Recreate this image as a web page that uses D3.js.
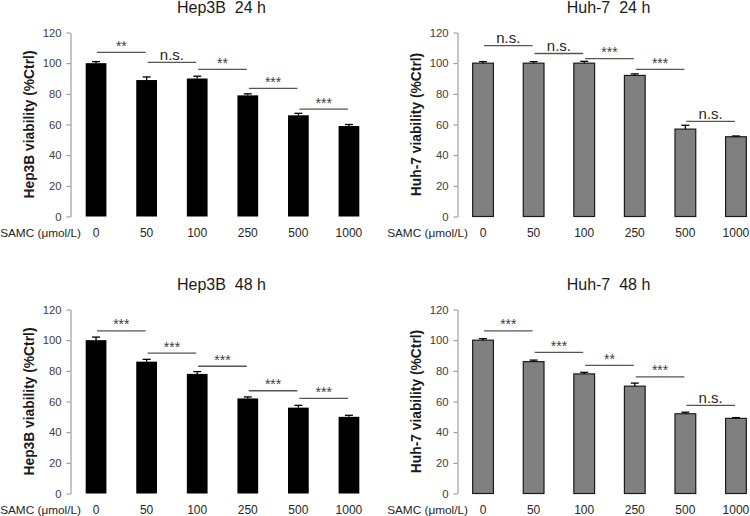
<!DOCTYPE html>
<html>
<head>
<meta charset="utf-8">
<script src="https://cdn.jsdelivr.net/npm/d3@7"></script>
<style>
  html, body { margin: 0; padding: 0; background: #fff; }
  svg { display: block; font-family: Arial, "Liberation Sans", sans-serif; }
</style>
</head>
<body>
<svg id="chart" width="750" height="516"></svg>
<script>
// ---------------- DATA ----------------
const categories = ["0", "50", "100", "250", "500", "1000"];
const yTicks = [0, 20, 40, 60, 80, 100, 120];
const xAxisTitle = "SAMC (\u03bcmol/L)";

const titles = ["Hep3B  24 h", "Huh-7  24 h", "Hep3B  48 h", "Huh-7  48 h"];
const yTitles = ["Hep3B viability (%Ctrl)", "Huh-7 viability (%Ctrl)", "Hep3B viability (%Ctrl)", "Huh-7 viability (%Ctrl)"];

const hep3b24 = [100, 89, 90, 79, 66, 59];
const hep3b24Err = [1, 2, 1.5, 1, 1.3, 1];
const huh724 = [100, 100, 100, 92, 57, 52];
const huh724Err = [1, 1, 1.2, 1, 2.5, 0.5];
const hep3b48 = [100, 86, 78, 62, 56, 50];
const hep3b48Err = [2, 1.5, 1.5, 1, 1.5, 1];
const huh748 = [100, 86, 78, 70, 52, 49];
const huh748Err = [1, 1, 1, 2, 1, 0.5];

// significance between consecutive concentrations: label and bracket height (data units)
const sig1 = ["**", "n.s.", "**", "***", "***"];
const sig1Y = [107, 100.5, 96, 83.5, 70];
const sig2 = ["n.s.", "n.s.", "***", "***", "n.s."];
const sig2Y = [111.5, 106.3, 103, 96, 62];
const sig3 = ["***", "***", "***", "***", "***"];
const sig3Y = [106, 91.5, 83, 67, 62];
const sig4 = ["***", "***", "**", "***", "n.s."];
const sig4Y = [106, 92, 83.5, 76, 57.5];

// ---------------- LAYOUT ----------------
const panels = [
  { values: hep3b24, err: hep3b24Err, sig: sig1, sigY: sig1Y, title: titles[0], yTitle: yTitles[0], ax: 70.5, y0: 216.5, yTop: 32.5, titleY: 13, fill: "#000000", stroke: "none" },
  { values: huh724, err: huh724Err, sig: sig2, sigY: sig2Y, title: titles[1], yTitle: yTitles[1], ax: 457.5, y0: 216.5, yTop: 32.5, titleY: 13, fill: "#808080", stroke: "#1a1a1a" },
  { values: hep3b48, err: hep3b48Err, sig: sig3, sigY: sig3Y, title: titles[2], yTitle: yTitles[2], ax: 70.5, y0: 493.5, yTop: 309.5, titleY: 290, fill: "#000000", stroke: "none" },
  { values: huh748, err: huh748Err, sig: sig4, sigY: sig4Y, title: titles[3], yTitle: yTitles[3], ax: 457.5, y0: 493.5, yTop: 309.5, titleY: 290, fill: "#808080", stroke: "#1a1a1a" }
];

const svg = d3.select("#chart");

panels.forEach(p => {
  const g = svg.append("g");
  const x = d3.scaleBand().domain(categories).range([p.ax, p.ax + 304]).paddingInner(0.59).paddingOuter(0.3);
  const cx = d => x(d) + x.bandwidth() / 2;
  const y = d3.scaleLinear().domain([0, 120]).range([p.y0, p.yTop]);

  // y axis
  const yAxis = d3.axisLeft(y).tickValues(yTicks).tickSize(4).tickPadding(5).tickSizeOuter(0);
  const ag = g.append("g").attr("transform", `translate(${p.ax},0)`).call(yAxis);
  ag.select(".domain").attr("stroke", "#8c8c8c").attr("stroke-width", 1);
  ag.selectAll(".tick line").attr("stroke", "#8c8c8c");
  ag.selectAll(".tick text").attr("fill", "#404040").style("font-size", "11.3px").style("font-family", "Arial, 'Liberation Sans', sans-serif");

  // x labels
  g.selectAll("text.xl").data(categories).enter().append("text")
    .attr("x", d => cx(d)).attr("y", p.y0 + 20)
    .attr("text-anchor", "middle").attr("fill", "#262626")
    .style("font-size", "12px").text(d => d);
  g.append("text").attr("x", p.ax + 10.5).attr("y", p.y0 + 20)
    .attr("text-anchor", "end").attr("fill", "#262626")
    .style("font-size", "11.8px").text(xAxisTitle);

  // bars
  g.selectAll("rect.bar").data(p.values).enter().append("rect")
    .attr("x", (d, i) => x(categories[i]))
    .attr("y", d => y(d))
    .attr("width", x.bandwidth())
    .attr("height", d => y(0) - y(d))
    .attr("fill", p.fill)
    .attr("stroke", p.stroke).attr("stroke-width", 1.2);

  // error bars (upper)
  p.values.forEach((v, i) => {
    const c = cx(categories[i]);
    g.append("line").attr("x1", c).attr("x2", c).attr("y1", y(v)).attr("y2", y(v + p.err[i]))
      .attr("stroke", "#000").attr("stroke-width", 1.3);
    g.append("line").attr("x1", c - 4).attr("x2", c + 4).attr("y1", y(v + p.err[i])).attr("y2", y(v + p.err[i]))
      .attr("stroke", "#000").attr("stroke-width", 1.3);
  });

  // significance brackets
  p.sig.forEach((s, i) => {
    const xa = cx(categories[i]) + 1, xb = cx(categories[i + 1]) - 1;
    const ly = y(p.sigY[i]);
    g.append("line").attr("x1", xa).attr("x2", xb).attr("y1", ly).attr("y2", ly)
      .attr("stroke", "#555").attr("stroke-width", 1.3);
    const isNs = s === "n.s.";
    g.append("text").attr("x", (xa + xb) / 2).attr("y", isNs ? ly - 2.5 : ly - 1.5)
      .attr("text-anchor", "middle").attr("fill", isNs ? "#262626" : "#404040")
      .style("font-size", isNs ? "15px" : "14px").text(s);
  });

  // title
  g.append("text").attr("x", p.ax + 151).attr("y", p.titleY)
    .attr("text-anchor", "middle").attr("fill", "#1a1a1a")
    .style("font-size", "16px").style("white-space", "pre").text(p.title);

  // y title
  const ym = (p.y0 + p.yTop) / 2;
  g.append("text").attr("transform", `translate(${p.ax - 37},${ym}) rotate(-90)`)
    .attr("text-anchor", "middle").attr("fill", "#1a1a1a")
    .style("font-size", "13.8px").style("font-weight", "bold").text(p.yTitle);
});
</script>
</body>
</html>
